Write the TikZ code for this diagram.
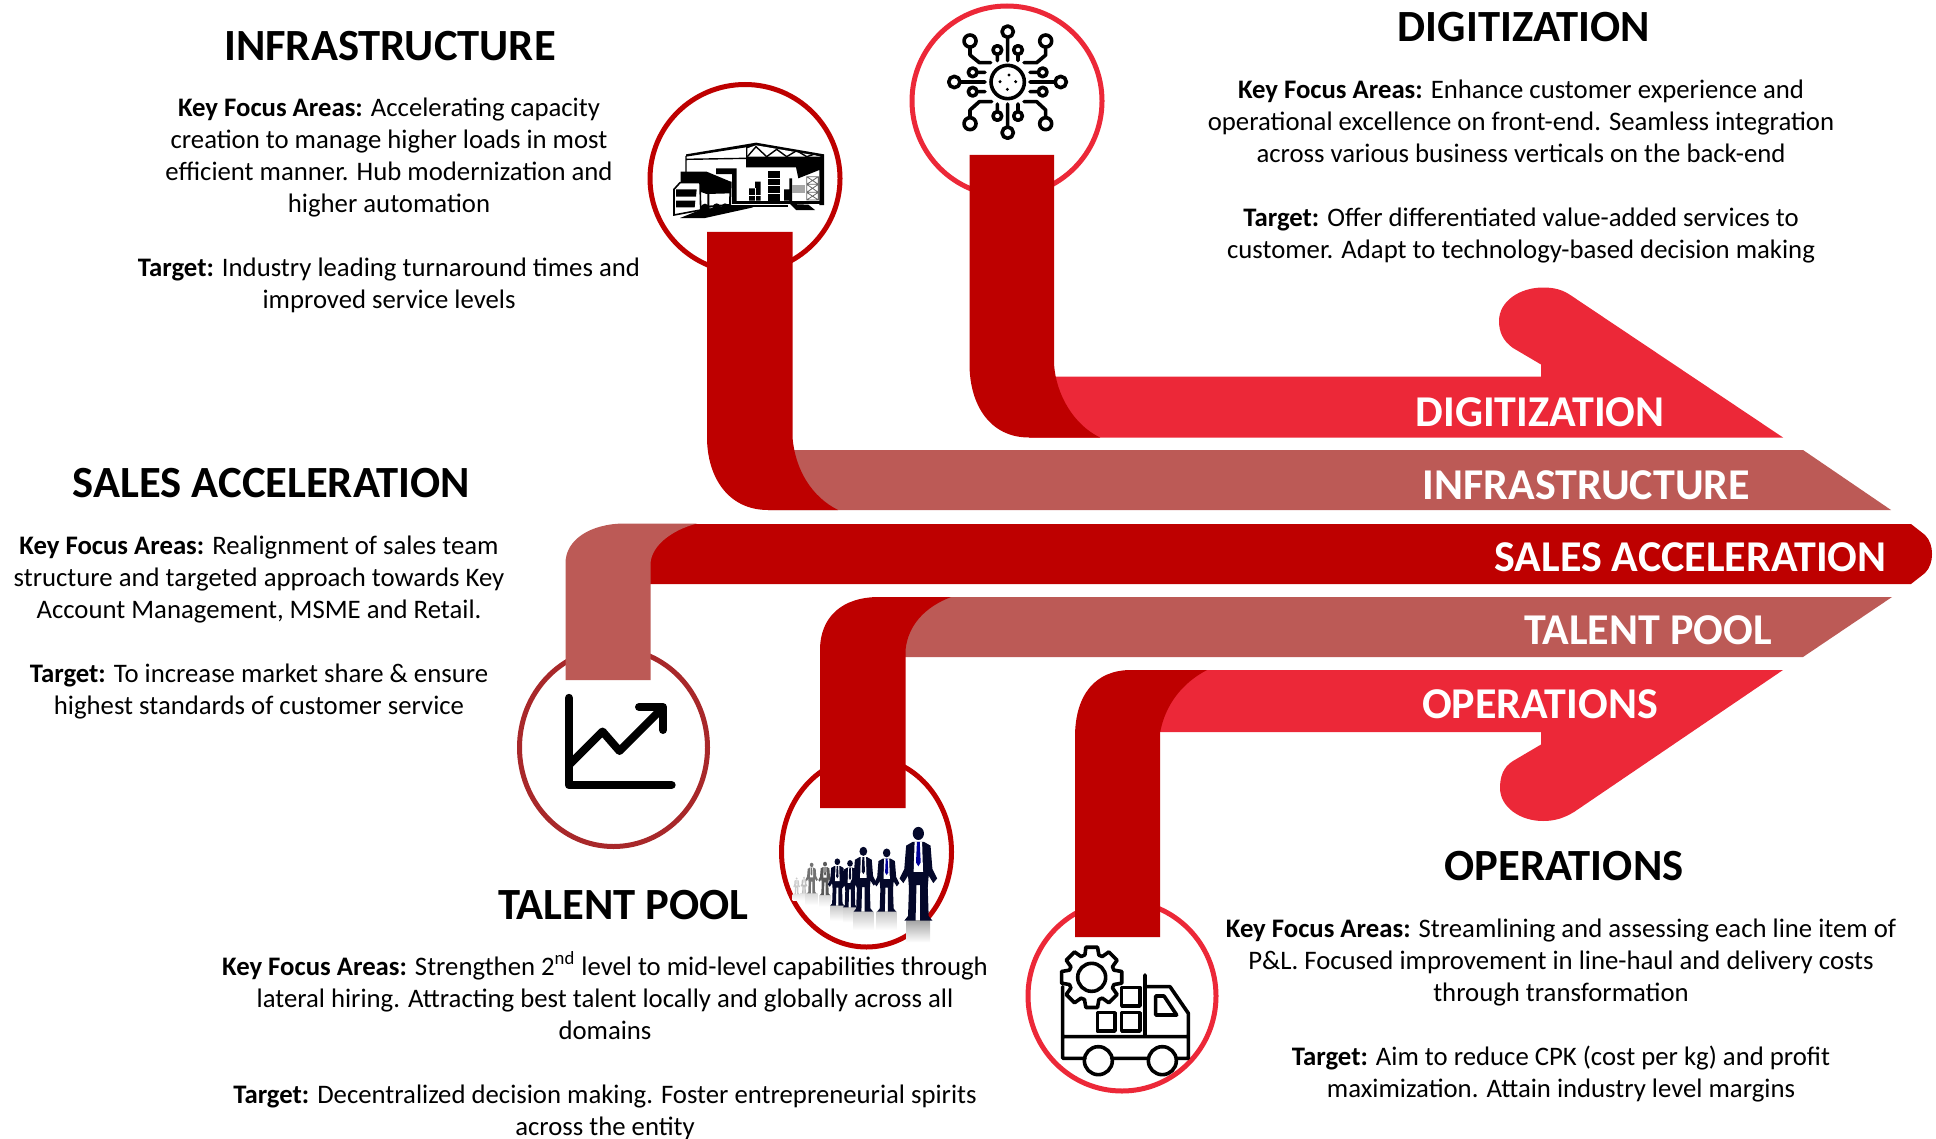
\documentclass[tikz,border=0pt]{standalone}
\usepackage{fontspec}
\setmainfont{Carlito}
\usetikzlibrary{shadings}
\definecolor{deepred}{HTML}{BE0000}
\definecolor{rosered}{HTML}{BC5A56}
\definecolor{brightred}{HTML}{EC2838}
\definecolor{brownred}{HTML}{A8282A}
\definecolor{navy}{HTML}{04082A}
\tikzset{
  bodytext/.style={align=center,inner sep=0pt,text=black,font=\fontsize{13.37}{16}\selectfont},
  titletext/.style={inner sep=0pt,text=black,font=\bfseries\fontsize{22.3}{26}\selectfont},
  bandtext/.style={inner sep=0pt,text=white,font=\bfseries\fontsize{22}{26}\selectfont},
  ring/.style={line width=2.5pt,fill=white},
  ink/.style={line width=1.8pt,draw=black,line join=round,line cap=round},
  zoomed/.style={x=0.16667pt,y=-0.16667pt},
}
\newcommand{\kf}{\textbf{Key Focus Areas:} }
\newcommand{\tg}{\textbf{Target:} }
\newcommand{\gap}{\\[16pt]}
% person: x, foot y, height, colour, tie colour
\newcommand{\person}[5]{%
  \pgfmathsetmacro{\uu}{0.0016667*#3}%
  \begin{scope}[shift={(#1,#2)},x=\uu pt,y=-\uu pt]
    \fill[#4] (0,-93) ellipse (6 and 7);
    \fill[#4] (-6,-84) -- (6,-84) -- (13,-80) -- (15,-55) -- (20,-45) -- (16,-40) -- (11,-48) -- (10,-35) -- (11,-5) -- (15,0) -- (2,0) -- (2,-38) -- (-2,-38) -- (-3,0) -- (-15,0) -- (-11,-5) -- (-10,-35) -- (-11,-48) -- (-16,-40) -- (-20,-45) -- (-15,-55) -- (-13,-80) -- cycle;
    \fill[white] (-4,-84) -- (4,-84) -- (5,-52) -- (-5,-52) -- cycle;
    \fill[#5] (-1.5,-84) -- (1.5,-84) -- (2.5,-62) -- (0,-58) -- (-2.5,-62) -- cycle;
  \end{scope}}
\begin{document}
\begin{tikzpicture}[x=0.5pt,y=-0.5pt]
\useasboundingbox (0,0) rectangle (1936,1139);
% rings
\draw[ring,draw=deepred] (745,178.5) ellipse [x radius=95,y radius=94];
\draw[ring,draw=brightred] (1007,101) circle [radius=95];
\draw[ring,draw=brownred] (613.5,747.5) ellipse [x radius=94,y radius=99];
\draw[ring,draw=deepred] (866.5,852) ellipse [x radius=85,y radius=95];
\draw[ring,draw=brightred] (1122,996) ellipse [x radius=94,y radius=95];
% bands
\fill[brightred] (1029,376.5) -- (1541,376.5) -- (1541,364.5) -- (1513,348) .. controls (1503,341) and (1499,332) .. (1499,321) .. controls (1499,301) and (1520,287.5) .. (1543,287.5) .. controls (1555,287.5) and (1563,290) .. (1571,295.5) -- (1783,437.5) -- (1029,437.5) -- cycle;
\fill[rosered] (768,450) -- (1803,450) -- (1891,510) -- (768,510) -- cycle;
\fill[deepred] (625,524) -- (1911,524) -- (1925,535) .. controls (1930,540) and (1932,547) .. (1932,554) .. controls (1932,561) and (1930,568) .. (1925,573) -- (1911,584) -- (640,584) -- cycle;
\fill[rosered] (880,597) -- (1892,597) -- (1803,657) -- (880,657) -- cycle;
\fill[brightred] (1130,670) -- (1783,670) -- (1574,812) .. controls (1564,818) and (1555,821) .. (1543,821) .. controls (1520,821) and (1500,807) .. (1500,788) .. controls (1500,777) and (1503,767) .. (1513,761) -- (1541,744.5) -- (1541,732) -- (1130,732) -- cycle;
% pipes
\fill[deepred] (969.5,155) -- (1054,155) -- (1054,364) .. controls (1056,395) and (1074,425) .. (1100,437.5) -- (1029,437.5) .. controls (990,437.5) and (969.5,405) .. (969.5,364) -- cycle;
\fill[deepred] (707,232) -- (792.5,232) -- (792.5,437) .. controls (795,470) and (812,497) .. (838,510) -- (768,510) .. controls (728,510) and (707,477) .. (707,437) -- cycle;
\fill[rosered] (565.5,680) -- (650.5,680) -- (650.5,563) .. controls (652,545) and (672,530) .. (697,523.5) -- (625,523.5) .. controls (590,523.5) and (565.5,540) .. (565.5,563) -- cycle;
\fill[deepred] (820,808) -- (905.5,808) -- (905.5,650) .. controls (908,625) and (925,607) .. (951,597) -- (879,597) .. controls (842,597) and (820,617) .. (820,650) -- cycle;
\fill[deepred] (1075,937) -- (1160,937) -- (1160,733) .. controls (1165,705) and (1182,683) .. (1207,670) -- (1131,670) .. controls (1095,670) and (1075,695) .. (1075,737) -- cycle;
% band labels
\node[bandtext] (labeldig) at (1540,412) {DIGITIZATION};
\node[bandtext] (labelinf) at (1586.5,485) {INFRASTRUCTURE};
\node[bandtext] (labelsal) at (1690.5,557.5) {SALES ACCELERATION};
\node[bandtext] (labeltal) at (1648,630) {TALENT POOL};
\node[bandtext] (labelope) at (1540,704) {OPERATIONS};
% titles
\node[titletext] (titleinf) at (390,46) {INFRASTRUCTURE};
\node[titletext] (titledig) at (1524,27) {DIGITIZATION};
\node[titletext] (titlesal) at (271.5,483) {SALES ACCELERATION};
\node[titletext] (titletal) at (623.5,905) {TALENT POOL};
\node[titletext] (titleope) at (1564,866) {OPERATIONS};
% body
\node[bodytext] (bodyinf) at (389,205.5) {\kf Accelerating capacity\\creation to manage higher loads in most\\efficient manner. Hub modernization and\\higher automation\gap\tg Industry leading turnaround times and\\improved service levels};
\node[bodytext] (bodydig) at (1521,172) {\kf Enhance customer experience and\\operational excellence on front-end. Seamless integration\\across various business verticals on the back-end\gap\tg Offer differentiated value-added services to\\customer. Adapt to technology-based decision making};
\node[bodytext] (bodysal) at (259,628) {\kf Realignment of sales team\\structure and targeted approach towards Key\\Account Management, MSME and Retail.\gap\tg To increase market share \& ensure\\highest standards of customer service};
\node[bodytext] (bodytal) at (605,1045.5) {\kf Strengthen 2\textsuperscript{nd} level to mid-level capabilities through\\lateral hiring. Attracting best talent locally and globally across all\\domains\gap\tg Decentralized decision making. Foster entrepreneurial spirits\\across the entity};
\node[bodytext] (bodyope) at (1561,1010.5) {\kf Streamlining and assessing each line item of\\P\&L. Focused improvement in line-haul and delivery costs\\through transformation\gap\tg Aim to reduce CPK (cost per kg) and profit\\maximization. Attain industry level margins};
% circuit icon
\begin{scope}[shift={(640,0)},zoomed,ink]
  \draw (1103,246) circle [radius=50];
  \fill[black] (1107,225) circle [radius=5] (1080,245) circle [radius=5] (1127,245) circle [radius=5] (1102,268) circle [radius=5];
  \draw (1103,95) circle [radius=17] (1103,112) -- (1103,182);
  \draw (1103,398) circle [radius=17] (1103,312) -- (1103,381);
  \draw (943,246) circle [radius=17] (960,246) -- (1035,246);
  \draw (1262,246) circle [radius=17] (1170,246) -- (1245,246);
  \draw (990,123) circle [radius=18] (990,141) -- (990,165) -- (1018,188) -- (1052,188);
  \draw (1217,123) circle [radius=18] (1217,141) -- (1217,165) -- (1190,188) -- (1152,188);
  \draw (990,371) circle [radius=18] (990,353) -- (990,330) -- (1018,305) -- (1055,305);
  \draw (1217,371) circle [radius=18] (1217,353) -- (1217,330) -- (1190,305) -- (1152,305);
  \draw (1072,150) circle [radius=13] (1072,163) -- (1072,182);
  \draw (1134,150) circle [radius=13] (1134,163) -- (1134,182);
  \draw (1072,348) circle [radius=13] (1072,335) -- (1072,312);
  \draw (1134,348) circle [radius=13] (1134,335) -- (1134,312);
  \draw (998,217) circle [radius=13] (1011,217) -- (1035,217);
  \draw (998,275) circle [radius=13] (1011,275) -- (1035,275);
  \draw (1208,217) circle [radius=13] (1195,217) -- (1170,217);
  \draw (1208,275) circle [radius=13] (1195,275) -- (1170,275);
\end{scope}
% warehouse icon
\begin{scope}[shift={(660,130)},zoomed]
  \fill[black] (78,73) -- (288,38) -- (492,73) -- (492,225) -- (478,225) -- (478,120) -- (415,145) -- (408,112) -- (258,112) -- (258,52) -- (78,80) -- cycle;
  \draw[black,line width=0.7pt] (78,78) -- (78,130) (78,88) -- (258,85);
  \fill[white] (262,80) -- (262,55) -- (288,46) -- (488,80) -- cycle;
  \draw[black,line width=0.7pt] (262,80) -- (288,50) -- (320,80) -- (350,58) -- (380,80) -- (410,62) -- (440,80) -- (465,72) -- (488,80);
  \fill[black] (168,115) -- (230,115) -- (230,215) -- (216,215) -- (216,132) -- (168,132) -- cycle;
  \fill[black] (325,122) rectangle (360,212);
  \draw[white,line width=0.4pt] (325,145) -- (360,145) (325,165) -- (360,165) (325,190) -- (360,190);
  \fill[black] (285,155) rectangle (302,212) (267,175) rectangle (302,212);
  \draw[white,line width=0.4pt] (267,195) -- (302,195) (285,175) -- (285,212);
  \draw[black!60,line width=0.4pt] (440,140) rectangle (475,210) (440,163) -- (475,163) (440,187) -- (475,187) (440,140) -- (475,163) (475,140) -- (440,163) (440,163) -- (475,187) (475,163) -- (440,187) (440,187) -- (475,210) (475,187) -- (440,210);
  \fill[black] (372,178) rectangle (388,212) (388,145) rectangle (396,215);
  \fill[black!35] (396,165) rectangle (436,190);
  \fill[black] (215,214) -- (492,214) -- (492,222) -- (215,222) -- cycle;
  \fill[black] (210,226) -- (385,226) -- (385,230) -- (210,230) -- cycle;
  \fill[black] (390,222) -- (445,224) -- (465,240) -- (408,240) -- cycle;
  \fill[black] (60,264) -- (135,264) -- (280,232) -- (205,226) -- (120,240) -- cycle;
  \fill[black] (62,125) -- (140,125) -- (212,155) -- (212,190) -- (140,192) -- (62,165) -- cycle;
  \draw[black,line width=1pt] (145,192) -- (145,230) -- (210,225) -- (212,155);
  \fill[black] (135,235) circle [radius=14] (170,232) circle [radius=12] (195,230) circle [radius=10];
  \filldraw[fill=white,draw=black,line width=0.8pt] (42,178) -- (60,158) -- (120,158) -- (122,240) -- (42,255) -- cycle;
  \fill[black] (48,178) -- (110,178) -- (108,200) -- (48,200) -- cycle;
  \fill[black] (48,212) -- (106,212) -- (104,232) -- (48,232) -- cycle;
\end{scope}
% chart icon
\begin{scope}[line width=4.2pt,line cap=round,line join=round]
  \draw[black] (569,698) -- (569,785) -- (671.5,785);
  \draw[black,line width=4pt] (569,765) -- (602.5,731.5) -- (619.5,751) -- (660.5,710);
  \draw[black,line width=4pt] (639,707) -- (663,707) -- (663,730);
\end{scope}
% people icon
\begin{scope}[shift={(780,810)},zoomed]
  \foreach \sx/\sw/\sy/\sh/\st in {50/12/252/20/10,72/12/250/22/10,95/18/250/35/15,135/18/255/35/15,172/22/287/45/22,210/20/292/45/22,250/30/305/55/22,320/30/305/55/22,415/35/332/65/35}{
    \shade[top color=black!\st,bottom color=white] (\sx-\sw,\sy) rectangle (\sx+\sw,\sy+\sh);
  }
  \person{50}{252}{50}{black!20}{black!20}
  \person{72}{250}{50}{black!25}{black!25}
  \person{95}{250}{92}{black!55}{black!55}
  \person{135}{255}{100}{black!65}{black!65}
  \person{172}{287}{142}{navy}{navy}
  \person{210}{292}{142}{navy}{navy}
  \person{250}{305}{195}{navy}{navy}
  \person{320}{305}{190}{navy}{blue!60!black}
  \person{415}{332}{282}{navy}{blue!60!black}
\end{scope}
% truck icon
\begin{scope}[shift={(1040,930)},zoomed,ink]
  \draw (68,170) -- (68,385) -- (135,385) (215,385) -- (325,385) (410,385) -- (445,385) -- (445,250) -- (390,170) -- (315,170) (315,135) -- (315,320) (68,320) -- (445,320);
  \draw (175,392) circle [radius=42] (367,392) circle [radius=42];
  \draw (155,142) circle [radius=42];
  \draw[shift={(155,142)}] (-106:72) \foreach \a in {-90,-45,...,225}{ -- (\a-11:92) -- (\a+11:92) -- (\a+18:70) -- (\a+27:70)} -- cycle;
  \draw (245,172) rectangle (300,228) (172,248) rectangle (225,303) (245,248) rectangle (300,303);
  \draw (347,198) -- (347,255) -- (410,255) -- (372,198) -- cycle;
\end{scope}
\end{tikzpicture}
\end{document}
